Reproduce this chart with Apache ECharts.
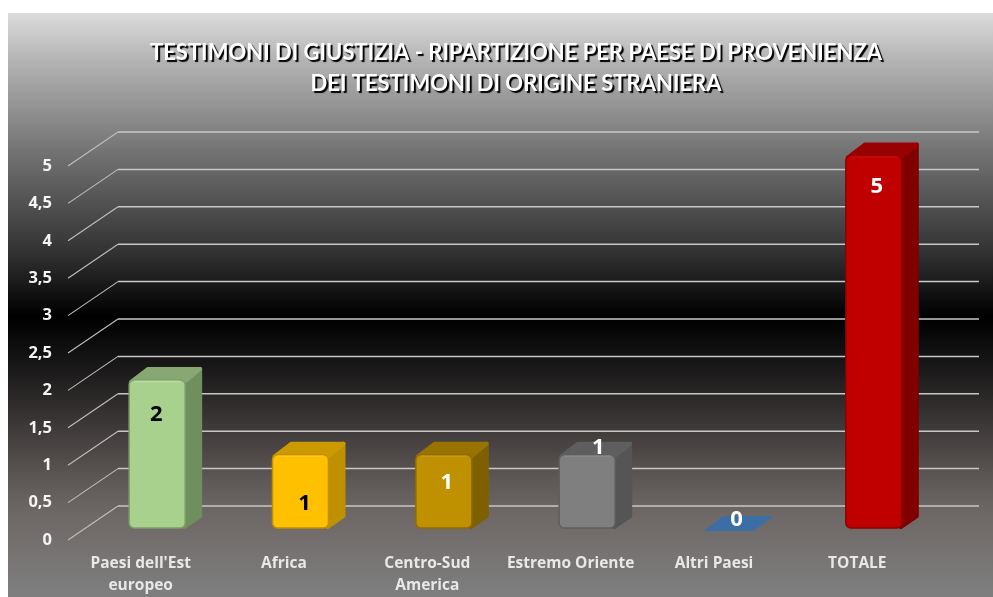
<!DOCTYPE html>
<html><head><meta charset="utf-8">
<style>html,body{margin:0;padding:0;background:#fff}#c{width:993px;height:597px}</style>
<script src="https://cdn.jsdelivr.net/npm/echarts@6/dist/echarts.min.js"></script>
</head><body><div id="c"></div>
<script>
const categories = ["Paesi dell'Est\neuropeo", "Africa", "Centro-Sud\nAmerica", "Estremo Oriente", "Altri Paesi", "TOTALE"];
const values = [2, 1, 1, 1, 0, 5];
const wallTicks = [0, 0.5, 1, 1.5, 2, 2.5, 3, 3.5, 4, 4.5, 5];
const titleText = "TESTIMONI DI GIUSTIZIA - RIPARTIZIONE PER PAESE DI PROVENIENZA\nDEI TESTIMONI DI ORIGINE STRANIERA";

const faces = [
  {front:'#A9D18E', side:'#6F8F5E', top:'#87A872', edge:'#7E9E6A', hi:'#BBDDA3', label:'#000'},
  {front:'#FFC000', side:'#BF9000', top:'#CC9A00', edge:'#BF9000', hi:'#FFC81F', label:'#000'},
  {front:'#BF9000', side:'#7F6000', top:'#997300', edge:'#8F6C00', hi:'#C79A10', label:'#fff'},
  {front:'#7F7F7F', side:'#555555', top:'#5E5E5E', edge:'#5E5E5E', hi:'#8A8A8A', label:'#fff'},
  {front:'#3A6EA5', side:'#3A6EA5', top:'#3A6EA5', edge:'#3A6EA5', hi:'#3A6EA5', label:'#fff'},
  {front:'#C00000', side:'#800000', top:'#990000', edge:'#900000', hi:'#D00808', label:'#fff'}
];
const labelShift = [[-1,35],[4,49],[3,28],[11,-7],[6,-8],[3,31]];
const FONT = '"Open Sans", Lato, sans-serif';
const TITLE_FONT = 'Lato, "Open Sans", sans-serif';
const BW = 56, DEPTH_X = 17, DEPTH_Y = 13, MID_X = 16.5, MID_Y = -12, WALL_X = 50, WALL_Y = -34;

function wallItem(params, api) {
  const v = api.value(0);
  const p = api.coord([0, v]);
  const x0 = params.coordSys.x, x1 = x0 + params.coordSys.width;
  return {type:'group', silent:true, children:[
    {type:'line', shape:{x1:x0 - 1, y1:p[1], x2:x0 + WALL_X - 1, y2:p[1] + WALL_Y}, style:{stroke:'#BEBEBE', lineWidth:1.1}},
    {type:'line', shape:{x1:x0 + WALL_X - 1, y1:p[1] + WALL_Y, x2:x1 + WALL_X, y2:p[1] + WALL_Y}, style:{stroke:'#C8C8C8', lineWidth:1.5}}
  ]};
}
function barItem(params, api) {
  const i = params.dataIndex, f = faces[i];
  const base = api.coord([i, 0]), top = api.coord([i, api.value(1)]);
  const cx = base[0] + MID_X, l = cx - BW / 2, r = cx + BW / 2;
  const yb = base[1] + MID_Y, yt = top[1] + MID_Y + (api.value(1) === 0 ? 0 : 1.5);
  const sh = labelShift[i];
  const text = {type:'text', z2:10, style:{text:String(api.value(1)), x:cx + sh[0], y:yt + sh[1], align:'center', verticalAlign:'middle',
      fill:f.label, font:'bold 22px ' + FONT}};
  if (api.value(1) === 0) {
    return {type:'group', children:[
      {type:'polygon', shape:{points:[[l + 1, yb + 3], [l + 21, yb - 12], [r + 15, yb - 12], [r - 5, yb + 3]]}, style:{fill:f.front}},
      text]};
  }
  const rnd = {lineJoin:'round', lineWidth:4};
  return {type:'group', children:[
    {type:'polygon', shape:{points:[[r - 1, yt + 2], [r + DEPTH_X - 2, yt - DEPTH_Y + 2], [r + DEPTH_X - 2, yb - DEPTH_Y + 1], [r - 1, yb - 1]]},
      style:{fill:f.side, stroke:f.side, ...rnd}},
    {type:'polygon', shape:{points:[[l + 2, yt + 2], [l + DEPTH_X + 2, yt - DEPTH_Y + 2], [r + DEPTH_X - 2, yt - DEPTH_Y + 2], [r - 1, yt + 2]]},
      style:{fill:f.top, stroke:f.top, ...rnd}},
    {type:'rect', shape:{x:l, y:yt, width:BW, height:yb - yt, r:5}, style:{fill:f.front, stroke:f.edge, lineWidth:1.5}},
    {type:'line', shape:{x1:l + 5, y1:yt + 1.5, x2:r - 5, y2:yt + 1.5}, style:{stroke:f.hi, lineWidth:1.5}},
    text]};
}

const chart = echarts.init(document.getElementById('c'), null, {renderer:'canvas'});
chart.setOption({
  animation:false,
  backgroundColor:'#fff',
  graphic:[{type:'rect', z:-10, silent:true, shape:{x:8, y:13, width:985, height:584},
    style:{fill:new echarts.graphic.LinearGradient(0,0,0,1,[
      {offset:0,color:'#DCDCDC'},{offset:0.08,color:'#B4B4B4'},{offset:0.25,color:'#6E6E6E'},
      {offset:0.4,color:'#363636'},{offset:0.52,color:'#000000'},{offset:0.62,color:'#1E1C1C'},
      {offset:0.8,color:'#5E5856'},{offset:0.86,color:'#6E6866'},{offset:1,color:'#7F7F7F'}])}}],
  title:{text:titleText, left:511, top:32, textAlign:'center',
    textStyle:{color:'#FFFFFF', fontFamily:TITLE_FONT, fontWeight:'bold', fontSize:22, lineHeight:31,
      textShadowColor:'#000', textShadowBlur:1, textShadowOffsetX:2, textShadowOffsetY:2}},
  grid:{left:69, right:64, top:166, bottom:56},
  xAxis:{type:'category', data:categories, axisLine:{show:false}, axisTick:{show:false},
    axisLabel:{color:'#E8E8E8', fontFamily:FONT, fontWeight:'bold', fontSize:15.5, lineHeight:22, margin:13, interval:0}},
  yAxis:{type:'value', min:0, max:5, interval:0.5, splitLine:{show:false}, axisLine:{show:false}, axisTick:{show:false},
    axisLabel:{color:'#F4F4F4', fontFamily:FONT, fontWeight:'bold', fontSize:16.5, margin:17, padding:[6,0,0,0],
      formatter:v => String(v).replace('.', ',')}},
  series:[
    {type:'custom', z:1, clip:false, renderItem:wallItem, data:wallTicks.map(v => [v]), encode:{y:0}, silent:true},
    {type:'custom', z:2, clip:false, renderItem:barItem, data:values.map((v,i) => [i,v]), encode:{x:0,y:1}}
  ]
});
</script></body></html>
